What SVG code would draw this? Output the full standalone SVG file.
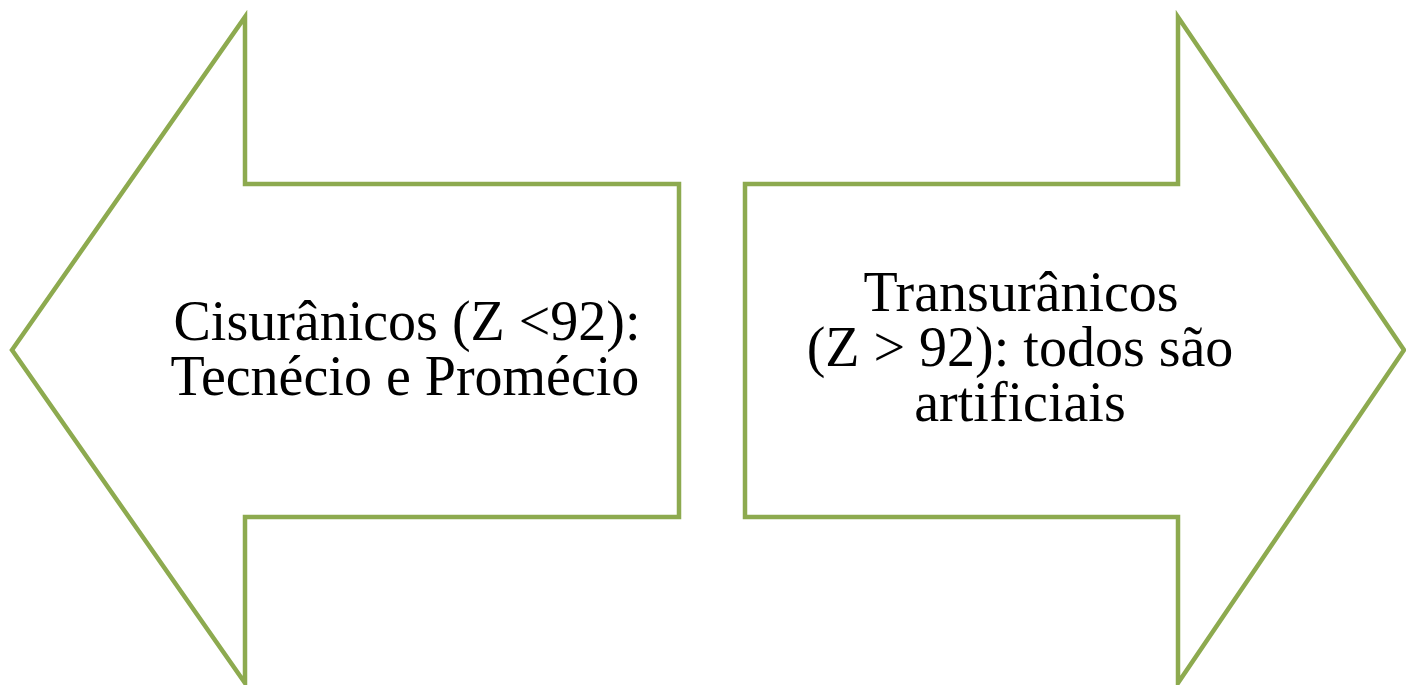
<svg xmlns="http://www.w3.org/2000/svg" width="1406" height="685" viewBox="0 0 1406 685">
<style>
.shape{fill:#ffffff;stroke:#8DAA4F;stroke-width:4.5;stroke-linejoin:miter}
.lbl{font-family:"Liberation Serif","Times New Roman",serif;font-size:56px;fill:#000000;text-anchor:middle}
</style>
<rect width="1406" height="685" fill="#ffffff"/>
<g id="left-arrow">
<path class="shape" d="M12,350 L245,17 L245,184 L679,184 L679,517 L245,517 L245,683 Z"/>
<text class="lbl" x="407" y="340">Cisurânicos (Z &lt;92):</text>
<text class="lbl" x="405" y="395">Tecnécio e Promécio</text>
</g>
<g id="right-arrow">
<path class="shape" d="M1404,350 L1178,17 L1178,184 L745,184 L745,517 L1178,517 L1178,683 Z"/>
<text class="lbl" x="1021" y="311">Transurânicos</text>
<text class="lbl" x="1020" y="366">(Z &gt; 92): todos são</text>
<text class="lbl" x="1020" y="421">artificiais</text>
</g>
<g id="connectors"></g>
</svg>
